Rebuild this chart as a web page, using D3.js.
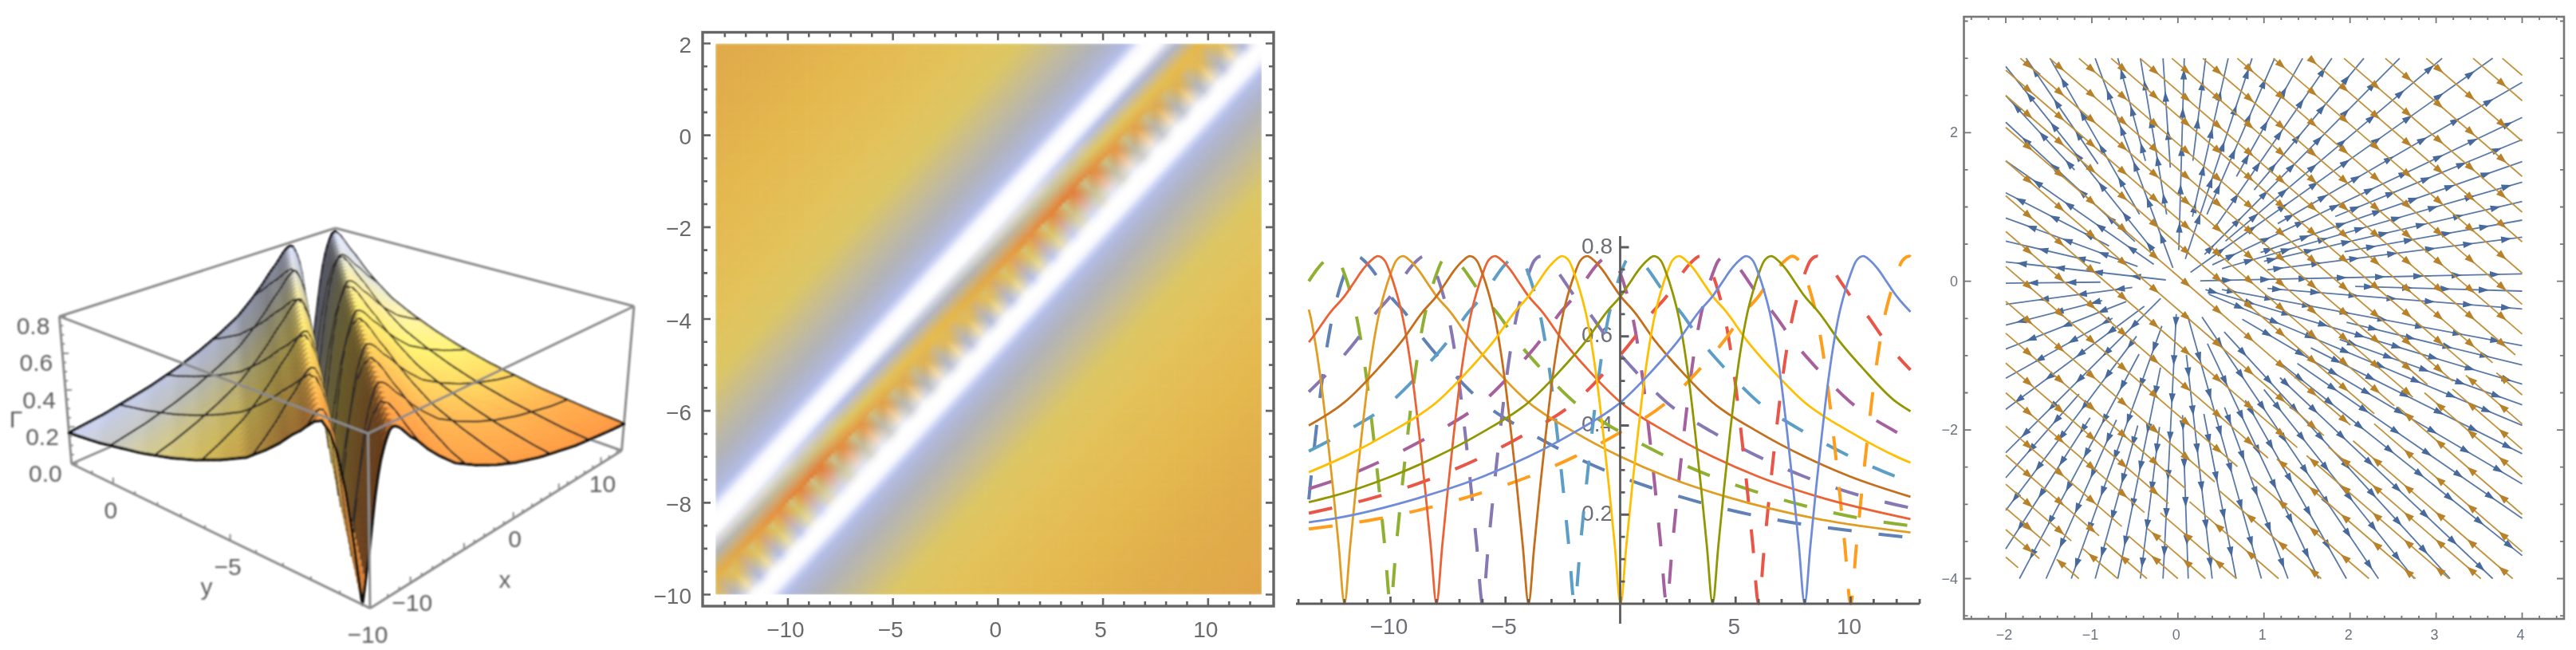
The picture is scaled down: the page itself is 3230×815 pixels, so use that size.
<!DOCTYPE html>
<html><head><meta charset="utf-8">
<script src="https://cdn.jsdelivr.net/npm/d3@7"></script>
<style>html,body{margin:0;padding:0;background:#fff}svg{display:block}text{font-family:"Liberation Sans",Arial,sans-serif}</style>
</head><body><script>
// ---------- values ----------
// resonance profile: distance from the valley (in x units) -> height
const profileDist = [0,.25,.5,.75,1,1.25,1.5,1.75,2,2.25,2.55,2.85,3.2,3.6,4,4.6,5.5,6.5,8,10,12,14,16.6,20.6,24.6,28];
const profileHeight = [0,.13,.26,.38,.49,.58,.65,.70,.74,.77,.78,.77,.75,.72,.69,.655,.59,.53,.452,.385,.33,.285,.24,.19,.16,.14];
// slices of panel 3: where each curve touches zero
const solidZeros = [-12,-8,-4,0,4,8];
const solidColors = ['#e19c24','#eb6235','#c56e1a','#ffbf00','#929600','#6f8bd8'];
const dashedZeros = [-14,-10,-6,-2,2,6,10];
const dashedColors = ['#5e81b5','#8fb032','#8778b3','#5d9ec7','#a5609d','#e95547','#ff9e1b'];
// panel 1 mesh lines and surface tints
const meshX = [-9.25,-5,-.5,3.75,8.25];
const meshY = [-8,-6,-4,-2,0];
const tintY = [-10,-8,-6,-4,-2,0,2];
const tintColor = ['#ff9440','#ffaa4c','#ffca5a','#ffe26c','#efe29a','#d8dad6','#d4dcff'];
// panel 2 colour ramp
const rampHeight = [0,.1,.17,.24,.34,.42,.46,.54,.6,.66,.7,.725,.745,.76,.78];
const rampColor = ['#e4762e','#e5983f','#e0aa4a','#e4b84e','#e3c25a','#dcc664','#cfc080','#bdb8a5','#b2b3b8','#b0b6d0','#b4bde6','#d0d6f5','#f2f4fd','#fdfdff','#ffffff'];
// panel 4 blue streamlines: [end on the side, inner fraction]
const blueTop = [[-1.764,.526],[-1.486,.30],[-.961,.06],[-.698,.54],[-.436,.30],[-.173,.51],[.074,.14],[.322,.54],[.584,.29],[.862,.10],[1.124,.30],[1.449,.47],[1.789,.24],[2.16,.41],[2.576,.12],[3.07,.18],[3.658,.04]];
const blueLeft = [[2.89,.14],[2.497,.60],[2.14,.25],[1.62,.14],[1.19,.40],[.852,.234],[.54,.45],[.262,.07],[-.025,.45],[-.31,.265],[-.59,.44],[-.912,.30],[-1.305,.38],[-1.723,.195],[-2.307,.10],[-2.643,.574],[-3.083,.24],[-3.60,.51]];
const blueRight = [[2.676,.29],[2.204,.10],[1.907,.457],[1.61,.24],[1.335,.128],[1.073,.25],[.823,.484],[.594,.26],[.10,.065],[-.132,.515],[-.372,.26],[-.865,.128],[-1.126,.49],[-1.384,.08],[-1.663,.47],[-1.938,.09],[-2.32,.386],[-2.725,.187],[-3.19,.347],[-3.69,.30]];
const blueBottom = [[-1.841,.245],[-1.532,.466],[-1.239,.15],[-.961,.485],[-.698,.29],[-.436,.49],[-.173,.11],[.12,.45],[.398,.247],[.677,.446],[.97,.115],[1.279,.424],[1.634,.21],[1.958,.40],[2.33,.12],[2.746,.364],[3.163,.17],[3.658,.324]];
// panel 4 orange streamlines x+y=c
const orangeFullC = [3.29,3.69,4.11,4.53,4.93,5.41,5.885,6.43,6.77];
const orangeDownC = [-5.71,-5.34,-5.05,-4.73,-4.34,-3.95,-3.5,-3.1,-2.7,-2.27,-1.8,-1.33,-.85,-.38,.07,.5,.84,1.17,1.51,1.85,2.225,2.56,2.93];
const orangeDownEnd = [-1.856,-1.61,-1.486,-1.239,-.915,-.652,-.389,-.111,.09,.429,.692,1.047,1.387,1.696,2.005,2.283,2.515,2.73,2.9,3.195,3.364,3.657,3.92];
const orangeUpC = [-5.15,-4.7,-4.36,-4,-3.68,-3.32,-2.83,-2.335,-1.78,-1.24,-.85,-.48,-.11,.363,.864,1.365,1.74,2.08,2.47];
const orangeUpStart = [-1.409,-1.115,-.853,-.575,-.358,-.204,.136,.475,.85,1.15,1.495,1.75,2.036,2.28,2.555,2.865,3.19,3.345,3.7];
// tick labels
const p1YTicks=[0,-5,-10], p1XTicks=[-10,0,10], p1ZTicks=[0,.2,.4,.6,.8];
const p2XTicks=[-10,-5,0,5,10], p2YTicks=[2,0,-2,-4,-6,-8,-10];
const p3XTicks=[-10,-5,5,10], p3YTicks=[.2,.4,.6,.8];
const p4XTicks=[-2,-1,0,1,2,3,4], p4YTicks=[2,0,-2,-4];

const fmtMinus = v => String(v).replace('-','\u2212');
const heightAt = d3.scaleLinear().domain(profileDist).range(profileHeight).clamp(true);
const valleyDist = (x,y) => x-2*y-6;
const surf = (x,y) => heightAt(Math.abs(valleyDist(x,y)));

const svg = d3.select('body').append('svg').attr('width',3230).attr('height',815);
svg.append('rect').attr('width',3230).attr('height',815).attr('fill','#fff');
const defs = svg.append('defs');
function blur(id,s){const f=defs.append('filter').attr('id',id).attr('filterUnits','userSpaceOnUse').attr('x',0).attr('y',0).attr('width',3230).attr('height',815);f.append('feGaussianBlur').attr('stdDeviation',s);}
blur('b1',1.1);blur('b2',1.7);blur('b3',.7);blur('b4',.7);

// ---------- panel 1: surface ----------
(function(){
  const g = svg.append('g').attr('filter','url(#b1)');
  const xT=d3.scaleLinear().domain([-13.5,12.6]).range([0,1]), yT=d3.scaleLinear().domain([-10,2]).range([0,1]), zT=d3.scaleLinear().domain([0,.8]).range([0,1]);
  const warp=t=>t/(t+.81*(1-t));
  const B={f:[464,762.7],r:[779.5,565],l:[89.7,581.5],b:[418,438]}, T={f:[461.5,543.5],r:[795,384],l:[74.4,396.7],b:[420.5,286]};
  const bil=(C,a,b,i)=>(1-a)*(1-b)*C.f[i]+a*(1-b)*C.r[i]+(1-a)*b*C.l[i]+a*b*C.b[i];
  const proj=(x,y,z)=>{const a=warp(xT(x)),b=warp(yT(y)),c=zT(z);return [0,1].map(i=>(1-c)*bil(B,a,b,i)+c*bil(T,a,b,i));};
  const seg=(p,q)=>`M${p}L${q}`;
  const boxC='#8a8a8a';
  const box=(d,w)=>g.append('path').attr('d',d).attr('fill','none').attr('stroke',boxC).attr('stroke-width',w||3);
  const xa=-13.5,xb=12.6,ya=-10,yb=2;
  // hidden rear box edges
  box(seg(proj(xa,yb,.8),proj(xb,yb,.8))+seg(proj(xb,yb,.8),proj(xb,ya,.8))+seg(proj(xa,yb,0),proj(xb,yb,0))+seg(proj(xb,yb,0),proj(xb,ya,0))+seg(proj(xa,yb,0),proj(xa,yb,.8))+seg(proj(xb,ya,0),proj(xb,ya,.8)));
  // surface facets, back to front
  const gx=d3.range(xa,12.5+.001,.25).concat([xb]), gy=d3.range(ya,yb+.001,.25);
  const tint=d3.scaleLinear().domain(tintY).range(tintColor).interpolate(d3.interpolateRgb);
  const items=[];
  const onMesh=(v,arr)=>arr.some(m=>Math.abs(m-v)<1e-6);
  for(let i=gx.length-2;i>=0;i--){for(let j=gy.length-2;j>=0;j--){
    const x0=gx[i],x1=gx[i+1],y0=gy[j],y1=gy[j+1];
    const a=surf(x0,y0),b=surf(x1,y0),c=surf(x1,y1),e=surf(x0,y1);
    const p00=proj(x0,y0,a),p10=proj(x1,y0,b),p11=proj(x1,y1,c),p01=proj(x0,y1,e);
    const dX=((b-a+c-e)/2/(x1-x0))*.5*26.1, dY=((e-a+c-b)/2/(y1-y0))*.5*12;
    const nl=Math.hypot(dX,dY,1), up=1/nl, right=(-dX+dY)/nl/Math.SQRT2;
    const s=Math.max(.4,Math.min(1.12,.5+.5*up+.3*right));
    const col=d3.rgb(tint((y0+y1)/2));
    const fill=d3.rgb(Math.min(255,col.r*s),Math.min(255,col.g*s),Math.min(255,col.b*s)).formatHex();
    items.push({d:`M${p00}L${p10}L${p11}L${p01}Z`,fill,stroke:fill,w:.7});
    // mesh lines lying on the rear edges of this cell, so nearer cells can still hide them
    if(onMesh(y1,meshY)) items.push({d:seg(p01,p11),fill:'none',stroke:'#2e2c2a',w:2.5});
    if(onMesh(x1,meshX)) items.push({d:seg(p10,p11),fill:'none',stroke:'#2e2c2a',w:2.5});
    if(j===0) items.push({d:seg(p00,p10),fill:'none',stroke:'#0c0c0c',w:3.4});
    if(j===gy.length-2) items.push({d:seg(p01,p11),fill:'none',stroke:'#0c0c0c',w:3.4});
    if(i===0) items.push({d:seg(p00,p01),fill:'none',stroke:'#0c0c0c',w:3.4});
    if(i===gx.length-2) items.push({d:seg(p10,p11),fill:'none',stroke:'#0c0c0c',w:3.4});
  }}
  g.selectAll('path.f').data(items).join('path').attr('class','f').attr('d',d=>d.d).attr('fill',d=>d.fill).attr('stroke',d=>d.stroke).attr('stroke-width',d=>d.w).attr('stroke-linecap','round');
  // front box edges
  box(seg(proj(xa,yb,.8),proj(xa,ya,.8))+seg(proj(xa,ya,.8),proj(xb,ya,.8))+seg(proj(xa,ya,0),proj(xa,ya,.8))+seg(proj(xa,ya,0),proj(xa,yb,0))+seg(proj(xa,ya,0),proj(xb,ya,0)));
  // ticks
  let t='';
  d3.range(-10,2.01,1).forEach(v=>{const p=proj(xa,v,0),L=v%5===0?8:4;t+=seg([p[0],p[1]],[p[0],p[1]-L]);});
  d3.range(-12,12.01,1).forEach(v=>{const p=proj(v,ya,0),L=v%5===0?8:4;t+=seg([p[0],p[1]],[p[0],p[1]-L]);});
  d3.range(0,.801,.05).forEach(v=>{const p=proj(xa,yb,v),L=Math.round(v*20)%4===0?8:4;t+=seg([p[0],p[1]],[p[0]+L,p[1]]);});
  box(t,2);
  const lab=(x,y,s,anchor)=>g.append('text').attr('x',x).attr('y',y).attr('text-anchor',anchor||'middle').attr('dominant-baseline','central').attr('font-size',30).attr('fill','#5e5e5e').text(s);
  p1ZTicks.forEach(v=>{const p=proj(xa,yb,v);lab(p[0]-12,p[1]+12,d3.format('.1f')(v),'end');});
  p1YTicks.forEach(v=>{const p=proj(xa,v,0);lab(p[0]-3,p[1]+33,fmtMinus(v));});
  p1XTicks.forEach(v=>{const p=proj(v,ya,0);lab(p[0]+2,p[1]+25,fmtMinus(v));});
  lab(259,735,'y');lab(633,726,'x');lab(20,525,'\u0393');
})();

// ---------- panel 2: density ----------
(function(){
  const g=svg.append('g');
  const x=d3.scaleLinear().domain([-13.45,12.55]).range([897,1582]);
  const y=d3.scaleLinear().domain([-10,2]).range([745.5,54.5]);
  const ramp=d3.scaleLinear().domain(rampHeight).range(rampColor).interpolate(d3.interpolateRgb).clamp(true);
  const nx=26,ny=26,sub=6;
  const xs=d3.range(nx+1).map(i=>-13.45+i*26/nx), ys=d3.range(ny+1).map(j=>-10+j*12/ny);
  const rgbOf=h=>{const c=d3.rgb(ramp(h));return [c.r,c.g,c.b];};
  const col=ys.map(yy=>xs.map(xx=>rgbOf(surf(xx,yy))));
  const near=d3.scaleLinear().domain([1.7,2.5]).range([1,0]).clamp(true);
  const cells=[];
  for(let j=0;j<ny;j++)for(let i=0;i<nx;i++){
    const A=col[j][i],Bc=col[j][i+1],C=col[j+1][i+1],D=col[j+1][i];
    const hx=xs[i+1]-xs[i],hy=ys[j+1]-ys[j];
    for(let a=0;a<sub;a++)for(let b=0;b<sub;b++){
      const u=(a+.5)/sub,v=(b+.5)/sub,xx=xs[i]+u*hx,yy=ys[j]+v*hy,dist=valleyDist(xx,yy);
      const fine=rgbOf(surf(xx,yy));
      // close to the valley the colours come from the coarse sampling mesh
      const coarse=[0,1,2].map(k=>dist>0
        ?(u+v<1?A[k]+u*(Bc[k]-A[k])+v*(D[k]-A[k]):C[k]+(1-u)*(D[k]-C[k])+(1-v)*(Bc[k]-C[k]))
        :(u>v?A[k]+u*(Bc[k]-A[k])+v*(C[k]-Bc[k]):A[k]+v*(D[k]-A[k])+u*(C[k]-D[k])));
      const w=near(Math.abs(dist));
      const c=[0,1,2].map(k=>w*coarse[k]+(1-w)*fine[k]);
      cells.push({x0:xs[i]+a/sub*hx,x1:xs[i]+(a+1)/sub*hx,y0:ys[j]+(b+1)/sub*hy,y1:ys[j]+b/sub*hy,c:`rgb(${c.map(Math.round)})`});
    }
  }
  defs.append('clipPath').attr('id','c2').append('rect').attr('x',897).attr('y',54.5).attr('width',685).attr('height',691);
  g.append('g').attr('clip-path','url(#c2)').append('g').attr('filter','url(#b2)')
   .selectAll('rect').data(cells).join('rect').attr('x',d=>x(d.x0)).attr('y',d=>y(d.y0)).attr('width',d=>x(d.x1)-x(d.x0)+.6).attr('height',d=>y(d.y1)-y(d.y0)+.6).attr('fill',d=>d.c);
  const f=svg.append('g').attr('filter','url(#b4)');
  const fc='#666';
  f.append('rect').attr('x',881).attr('y',40.5).attr('width',716).attr('height',719.5).attr('fill','none').attr('stroke',fc).attr('stroke-width',3.4);
  let t='';
  d3.range(-13,13,1).forEach(v=>{const L=v%5===0?10:6,p=x(v);t+=`M${p},40.5V${40.5+L}M${p},760V${760-L}`;});
  d3.range(-10,2.01,.5).forEach(v=>{const L=v%2===0?10:6,p=y(v);t+=`M881,${p}H${881+L}M1597,${p}H${1597-L}`;});
  f.append('path').attr('d',t).attr('fill','none').attr('stroke',fc).attr('stroke-width',2.6);
  p2XTicks.forEach(v=>f.append('text').attr('x',x(v)-3).attr('y',789).attr('text-anchor','middle').attr('dominant-baseline','central').attr('font-size',28).attr('fill','#6a6a6a').text(fmtMinus(v)));
  p2YTicks.forEach(v=>f.append('text').attr('x',867).attr('y',y(v)+2).attr('text-anchor','end').attr('dominant-baseline','central').attr('font-size',28).attr('fill','#6a6a6a').text(fmtMinus(v)));
})();

// ---------- panel 3: slices ----------
(function(){
  const g=svg.append('g').attr('filter','url(#b3)');
  const x=d3.scaleLinear().domain([-10,10]).range([1743.5,2320.5]);
  const y=d3.scaleLinear().domain([0,.8]).range([757,310]);
  const xa=-13.55,xb=12.6;
  const line=d3.line().x(d=>x(d[0])).y(d=>y(d[1])).curve(d3.curveMonotoneX);
  const pts=z=>{const k=new Set([xa,xb]);profileDist.forEach(d=>{[z-d,z+d].forEach(v=>{if(v>xa&&v<xb)k.add(v);});});return [...k].sort((a,b)=>a-b).map(v=>[v,heightAt(Math.abs(v-z))]);};
  // labels sit beneath the curves
  p3YTicks.forEach(v=>g.append('text').attr('x',2022).attr('y',y(v)-2).attr('text-anchor','end').attr('dominant-baseline','central').attr('font-size',28).attr('fill','#6e6e78').text(v.toFixed(1)));
  p3XTicks.forEach(v=>g.append('text').attr('x',x(v)-2).attr('y',785).attr('text-anchor','middle').attr('dominant-baseline','central').attr('font-size',28).attr('fill','#6e6e78').text(fmtMinus(v)));
  dashedZeros.forEach((z,i)=>g.append('path').attr('d',line(pts(z))).attr('fill','none').attr('stroke',dashedColors[i]).attr('stroke-width',4).attr('stroke-dasharray','30 34'));
  solidZeros.forEach((z,i)=>g.append('path').attr('d',line(pts(z))).attr('fill','none').attr('stroke',solidColors[i]).attr('stroke-width',2.8));
  let t=`M1625,757H2407M2031.5,296V782`;
  d3.range(-14,13.01,1).forEach(v=>{const L=v%5===0?9:6;t+=`M${x(v)},757V${757-L}`;});
  d3.range(.05,.801,.05).forEach(v=>{const L=Math.round(v*20)%4===0?11:6;t+=`M2031.5,${y(v)}H${2031.5+L}`;});
  g.append('path').attr('d',t).attr('fill','none').attr('stroke','#5c5c5c').attr('stroke-width',2.8);
})();

// ---------- panel 4: stream plot ----------
(function(){
  const g=svg.append('g').attr('filter','url(#b4)');
  const x=d3.scaleLinear().domain([-2,4]).range([2515,3162.5]);
  const y=d3.scaleLinear().domain([3,-4]).range([73.1,725.5]);
  const arrow=(px,py,dx,dy,L,H)=>{const n=Math.hypot(dx,dy);dx/=n;dy/=n;return `M${px+dx*L},${py+dy*L}L${px-dx*L-dy*H},${py-dy*L+dx*H}L${px-dx*L+dy*H},${py-dy*L-dx*H}Z`;};
  // blue
  const rays=[...blueTop.map(d=>[d[0],3,d[1]]),...blueLeft.map(d=>[-2,d[0],d[1]]),...blueRight.map(d=>[4,d[0],d[1]]),...blueBottom.map(d=>[d[0],-4,d[1]])];
  const ox=x(0),oy=y(0);
  let bl='',ba='';
  rays.forEach((r,i)=>{
    const ex=x(r[0]),ey=y(r[1]),dx=ex-ox,dy=ey-oy,L=Math.hypot(dx,dy),ux=dx/L,uy=dy/L,s0=L*r[2];
    bl+=`M${ox+ux*s0},${oy+uy*s0}L${ex},${ey}`;
    for(let s=L-20-(i%3)*14;s>s0+8;s-=48) ba+=arrow(ox+ux*s,oy+uy*s,ux,uy,6.5,4.2);
  });
  g.append('path').attr('d',bl).attr('fill','none').attr('stroke','#5a79a6').attr('stroke-width',1.8);
  g.append('path').attr('d',ba).attr('fill','#47699b');
  // orange
  const cols=d3.range(-1.733,4.01,.367);
  let ol='',oa='';
  const run=(c,X0,X1,dir)=>{
    const a=Math.max(X0,-2,c-3),b=Math.min(X1,4,c+4);if(b<=a)return;
    ol+=`M${x(a)},${y(c-a)}L${x(b)},${y(c-b)}`;
    const ux=x(1)-x(0),uy=y(-1)-y(0);
    cols.forEach(X=>{if(X>a+.03&&X<b-.03)oa+=arrow(x(X),y(c-X),dir*ux,dir*uy,6.5,4.6);});
  };
  orangeFullC.forEach(c=>run(c,-2,4,1));
  orangeDownC.forEach((c,i)=>run(c,-2,orangeDownEnd[i],1));
  orangeUpC.forEach((c,i)=>run(c,orangeUpStart[i],4,-1));
  g.append('path').attr('d',ol).attr('fill','none').attr('stroke','#c2923c').attr('stroke-width',1.8);
  g.append('path').attr('d',oa).attr('fill','#b8822a');
  // frame
  const fc='#777';
  g.append('rect').attr('x',2462.5).attr('y',21).attr('width',752.5).attr('height',755).attr('fill','none').attr('stroke',fc).attr('stroke-width',2.6);
  let t='';
  d3.range(-2.4,4.41,.2).forEach(v=>{const L=Math.abs(v-Math.round(v))<.01?8:4,p=x(v);t+=`M${p},21V${21+L}M${p},776V${776-L}`;});
  d3.range(-4.5,3.51,.5).forEach(v=>{const L=Math.abs(v%2)<.01?9:5,p=y(v);t+=`M2462.5,${p}H${2462.5+L}M3215,${p}H${3215-L}`;});
  g.append('path').attr('d',t).attr('fill','none').attr('stroke',fc).attr('stroke-width',1.8);
  p4XTicks.forEach(v=>g.append('text').attr('x',x(v)-2).attr('y',796).attr('text-anchor','middle').attr('dominant-baseline','central').attr('font-size',18).attr('fill','#6a7480').text(fmtMinus(v)));
  p4YTicks.forEach(v=>g.append('text').attr('x',2455).attr('y',y(v)).attr('text-anchor','end').attr('dominant-baseline','central').attr('font-size',18).attr('fill','#6a7480').text(fmtMinus(v)));
})();
</script></body></html>
